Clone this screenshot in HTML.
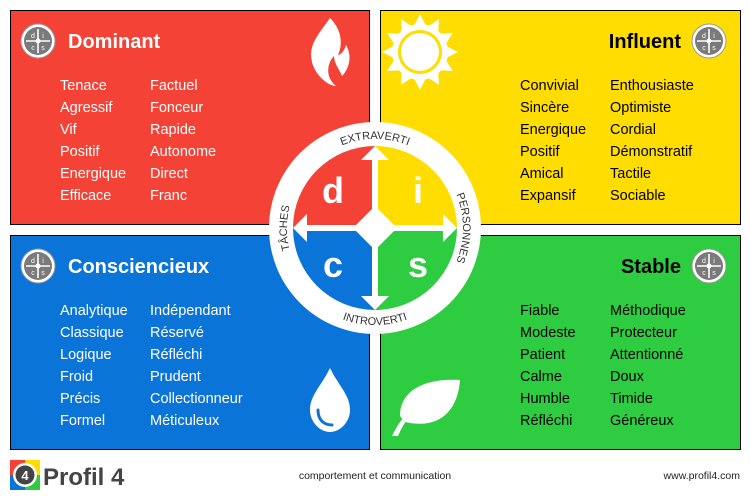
<!DOCTYPE html><html><head><meta charset="utf-8"><style>body{margin:0;background:#fff}svg{display:block}</style></head><body>
<svg width="750" height="500" viewBox="0 0 750 500" xmlns="http://www.w3.org/2000/svg" font-family="Liberation Sans, sans-serif">
<defs>
<g id="mini">
<circle r="17" fill="#fff"/><circle r="14" fill="#7a7a7a"/>
<path d="M-12 0H12M0-12V12" stroke="#fff" stroke-width="1.6"/><circle r="2.5" fill="#fff"/>
<circle r="17" fill="none" stroke="#999" stroke-width="1"/>
<g font-size="7" fill="#fff" text-anchor="middle"><text x="-5" y="-3">d</text><text x="5" y="-3">i</text><text x="-5" y="9">c</text><text x="5" y="9">s</text></g>
</g>
<path id="top" d="M286 228A89 89 0 0 1 464 228"/>
<path id="bot" d="M278 228A97 97 0 0 0 472 228"/>
<path id="left" d="M375 316A88 88 0 0 1 375 140"/>
<path id="right" d="M375 140A88 88 0 0 1 375 316"/>
</defs>
<rect x="10.5" y="10.5" width="359" height="214" fill="#f44336" stroke="#000"/>
<rect x="380.5" y="10.5" width="360" height="214" fill="#ffdd00" stroke="#000"/>
<rect x="10.5" y="235.5" width="359" height="214" fill="#0a74d9" stroke="#000"/>
<rect x="380.5" y="235.5" width="360" height="214" fill="#2ecc40" stroke="#000"/>
<use href="#mini" x="38" y="41"/><use href="#mini" x="709" y="41"/><use href="#mini" x="38" y="266"/><use href="#mini" x="709" y="266"/>
<g font-weight="bold" font-size="20">
<text x="68" y="48" fill="#fff">Dominant</text>
<text x="681" y="48" fill="#000" text-anchor="end">Influent</text>
<text x="68" y="273" fill="#fff">Consciencieux</text>
<text x="681" y="273" fill="#000" text-anchor="end">Stable</text>
</g>
<g font-size="14.5" fill="#fff">
<text x="60" y="90">Tenace</text><text x="60" y="112">Agressif</text><text x="60" y="134">Vif</text><text x="60" y="156">Positif</text><text x="60" y="178">Energique</text><text x="60" y="200">Efficace</text>
<text x="150" y="90">Factuel</text><text x="150" y="112">Fonceur</text><text x="150" y="134">Rapide</text><text x="150" y="156">Autonome</text><text x="150" y="178">Direct</text><text x="150" y="200">Franc</text>
<text x="60" y="315">Analytique</text><text x="60" y="337">Classique</text><text x="60" y="359">Logique</text><text x="60" y="381">Froid</text><text x="60" y="403">Précis</text><text x="60" y="425">Formel</text>
<text x="150" y="315">Indépendant</text><text x="150" y="337">Réservé</text><text x="150" y="359">Réfléchi</text><text x="150" y="381">Prudent</text><text x="150" y="403">Collectionneur</text><text x="150" y="425">Méticuleux</text>
</g>
<g font-size="14.5" fill="#000">
<text x="520" y="90">Convivial</text><text x="520" y="112">Sincère</text><text x="520" y="134">Energique</text><text x="520" y="156">Positif</text><text x="520" y="178">Amical</text><text x="520" y="200">Expansif</text>
<text x="610" y="90">Enthousiaste</text><text x="610" y="112">Optimiste</text><text x="610" y="134">Cordial</text><text x="610" y="156">Démonstratif</text><text x="610" y="178">Tactile</text><text x="610" y="200">Sociable</text>
<text x="520" y="315">Fiable</text><text x="520" y="337">Modeste</text><text x="520" y="359">Patient</text><text x="520" y="381">Calme</text><text x="520" y="403">Humble</text><text x="520" y="425">Réfléchi</text>
<text x="610" y="315">Méthodique</text><text x="610" y="337">Protecteur</text><text x="610" y="359">Attentionné</text><text x="610" y="381">Doux</text><text x="610" y="403">Timide</text><text x="610" y="425">Généreux</text>
</g>
<path d="M330 18 C318 35 308 45 312 62 C315 75 328 86 336 86 C324 76 328 62 334 56 C334 64 340 70 342 76 C350 68 352 55 346 45 C344 52 340 55 338 55 C344 42 340 28 330 18Z" fill="#fff"/>
<g transform="translate(420,52)" fill="#fff">
<g id="rays"><path d="M0-38L6-26H-6Z"/></g>
<use href="#rays" transform="rotate(30)"/><use href="#rays" transform="rotate(60)"/><use href="#rays" transform="rotate(90)"/><use href="#rays" transform="rotate(120)"/><use href="#rays" transform="rotate(150)"/><use href="#rays" transform="rotate(180)"/><use href="#rays" transform="rotate(210)"/><use href="#rays" transform="rotate(240)"/><use href="#rays" transform="rotate(270)"/><use href="#rays" transform="rotate(300)"/><use href="#rays" transform="rotate(330)"/>
<circle r="28"/><circle r="22" fill="#ffdd00"/><circle r="19"/>
</g>
<path d="M330 368 C322 385 310 395 310 410 C310 422 320 432 330 432 C340 432 350 422 350 410 C350 395 338 385 330 368Z" fill="#fff"/>
<path d="M318 410 C318 420 324 425 332 425" stroke="#0a74d9" stroke-width="3" fill="none" stroke-linecap="round"/>
<path d="M392 436 C400 420 408 410 420 404 C412 412 404 422 398 436Z M400 416 C400 390 425 378 460 380 C458 410 440 430 405 422Z" fill="#fff"/>
<circle cx="375" cy="228" r="106" fill="#fff"/>
<path d="M375 228V146A82 82 0 0 0 293 228Z" fill="#f44336"/>
<path d="M375 228V146A82 82 0 0 1 457 228Z" fill="#ffdd00"/>
<path d="M375 228H293A82 82 0 0 0 375 310Z" fill="#0a74d9"/>
<path d="M375 228H457A82 82 0 0 1 375 310Z" fill="#2ecc40"/>
<path d="M375 206L397 228L375 250L353 228Z" fill="#fff"/>
<path d="M375 160V296M307 228H443" stroke="#fff" stroke-width="6"/>
<path d="M375 146L389 160H361Z M375 310L389 296H361Z M293 228L307 214V242Z M457 228L443 214V242Z" fill="#fff"/>
<g font-weight="bold" font-size="36" fill="#fff" text-anchor="middle"><text x="333" y="203">d</text><text x="418" y="203">i</text><text x="333" y="277">c</text><text x="418" y="277">s</text></g>
<g font-size="11" fill="#333" text-anchor="middle">
<text><textPath href="#top" startOffset="50%">EXTRAVERTI</textPath></text>
<text><textPath href="#bot" startOffset="50%">INTROVERTI</textPath></text>
<text><textPath href="#left" startOffset="50%">TÂCHES</textPath></text>
<text><textPath href="#right" startOffset="50%">PERSONNES</textPath></text>
</g>
<rect x="10" y="460" width="15" height="15" fill="#f44336"/><rect x="25" y="460" width="15" height="15" fill="#ffdd00"/><rect x="10" y="475" width="15" height="15" fill="#0a74d9"/><rect x="25" y="475" width="15" height="15" fill="#2ecc40"/>
<circle cx="25" cy="475" r="12" fill="#fff"/><circle cx="25" cy="475" r="9.5" fill="#444"/>
<text x="25" y="480" font-size="13" font-weight="bold" fill="#fff" text-anchor="middle">4</text>
<text x="43" y="485" font-size="24" font-weight="bold" fill="#444">Profil 4</text>
<text x="375" y="479" font-size="10.5" fill="#222" text-anchor="middle">comportement et communication</text>
<text x="740" y="479" font-size="10.5" fill="#222" text-anchor="end">www.profil4.com</text>
</svg>
</body></html>
